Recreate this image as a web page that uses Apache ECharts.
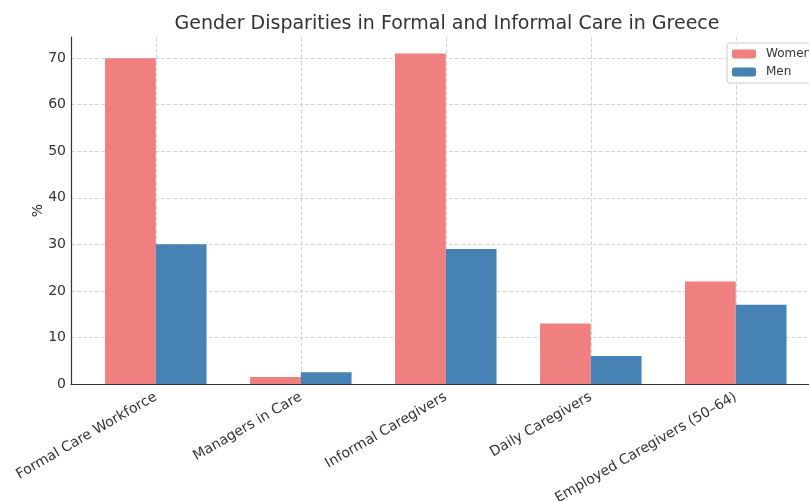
<!DOCTYPE html>
<html>
<head>
<meta charset="utf-8">
<script src="https://cdn.jsdelivr.net/npm/echarts@6/dist/echarts.min.js"></script>
<style>
html, body { margin: 0; padding: 0; background: #fff; }
#chart { width: 809px; height: 501px; }
</style>
</head>
<body>
<div id="chart"></div>
<script>
// categories and values
const categories = ['Formal Care Workforce', 'Managers in Care', 'Informal Caregivers', 'Daily Caregivers', 'Employed Caregivers (50–64)'];
const women = [70, 1.5, 71, 13, 22];
const men = [30, 2.5, 29, 6, 17];
const yTicks = [0, 10, 20, 30, 40, 50, 60, 70];

const font = 'DejaVu Sans';
const positions = categories.map((c, i) => i);
const gridLine = { show: true, lineStyle: { color: '#ccc', type: [4, 2], width: 0.8 } };

var myChart = echarts.init(document.getElementById('chart'));
myChart.setOption({
    animation: false,
    textStyle: { fontFamily: font },
    title: {
        text: 'Gender Disparities in Formal and Informal Care in Greece',
        left: 442, top: 10, textAlign: 'center',
        textStyle: { fontFamily: font, fontSize: 19, fontWeight: 'normal', color: '#333' }
    },
    legend: {
        orient: 'vertical',
        left: 727, top: 43,
        itemWidth: 24, itemHeight: 9, itemGap: 6,
        padding: [5, 8, 5, 5],
        borderColor: '#ccc', borderWidth: 1, borderRadius: 3,
        backgroundColor: 'rgba(255,255,255,0.8)',
        textStyle: { fontFamily: font, fontSize: 12, color: '#333', padding: [0, 0, 0, 5] },
        data: ['Women', 'Men']
    },
    grid: { left: 71, top: 37, width: 738, height: 347, outerBoundsMode: 'none', containLabel: false },
    xAxis: {
        type: 'value',
        min: -0.585, max: 4.505,
        axisLine: { onZero: false, lineStyle: { color: '#333', width: 1.2 } },
        axisTick: { show: true, inside: true, length: 3, customValues: positions, lineStyle: { color: '#333' } },
        axisLabel: {
            customValues: positions,
            formatter: v => categories[Math.round(v)] || '',
            rotate: 30, fontSize: 14, color: '#333', margin: 12, fontFamily: font
        },
        splitLine: gridLine
    },
    yAxis: {
        type: 'value',
        min: 0, max: 74.55,
        name: '%', nameLocation: 'middle', nameGap: 26, nameMoveOverlap: false,
        nameTextStyle: { fontSize: 14, color: '#333', fontFamily: font },
        axisLine: { show: true, onZero: false, lineStyle: { color: '#333', width: 1.2 } },
        axisTick: { show: false, customValues: yTicks },
        axisLabel: { customValues: yTicks, fontSize: 14, color: '#333', margin: 5, fontFamily: font },
        splitLine: gridLine
    },
    series: [
        {
            name: 'Women', type: 'bar',
            barWidth: 50.75, barGap: '0%',
            itemStyle: { color: '#F08080' },
            data: women.map((v, i) => [i, v])
        },
        {
            name: 'Men', type: 'bar',
            barWidth: 50.75, barGap: '0%',
            itemStyle: { color: '#4682B4' },
            data: men.map((v, i) => [i, v])
        }
    ]
});
</script>
</body>
</html>
